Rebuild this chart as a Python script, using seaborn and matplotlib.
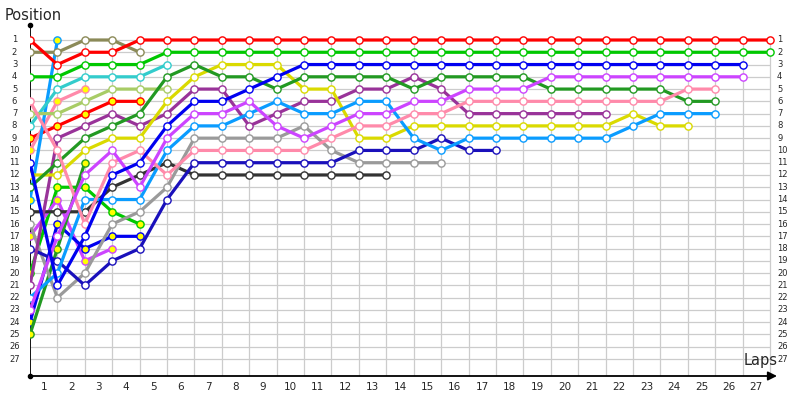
import matplotlib
matplotlib.use("Agg")
import matplotlib.pyplot as plt
import seaborn as sns
import pandas as pd

sns.set_style("white")
plt.rcParams["font.family"] = ["DejaVu Sans"]

# ---------------- data (position per lap, lap 0 = grid) ----------------
lap_labels = [str(i) for i in range(1, 28)]
pos_labels = [str(i) for i in range(1, 28)]

red_a = [1, 3, 2, 2, 1, 1, 1, 1, 1, 1, 1, 1, 1, 1, 1, 1, 1, 1, 1, 1, 1, 1, 1, 1, 1, 1, 1, 1]
green_a = [4, 4, 3, 3, 3, 2, 2, 2, 2, 2, 2, 2, 2, 2, 2, 2, 2, 2, 2, 2, 2, 2, 2, 2, 2, 2, 2, 2]
blue_a = [11, 21, 17, 12, 11, 8, 6, 6, 5, 4, 3, 3, 3, 3, 3, 3, 3, 3, 3, 3, 3, 3, 3, 3, 3, 3, 3]
magenta_a = [23, 17, 12, 10, 13, 9, 7, 7, 6, 8, 9, 8, 7, 7, 6, 6, 5, 5, 5, 4, 4, 4, 4, 4, 4, 4, 4]
pink_a = [6, 10, 16, 11, 10, 12, 10, 10, 10, 10, 10, 9, 8, 8, 7, 7, 6, 6, 6, 6, 6, 6, 6, 6, 5, 5]
dkgreen_a = [13, 11, 9, 8, 7, 4, 3, 4, 4, 5, 4, 4, 4, 4, 5, 4, 4, 4, 4, 5, 5, 5, 5, 5, 6, 6]
ltblue_a = [22, 20, 14, 14, 14, 10, 8, 8, 7, 6, 7, 7, 6, 6, 9, 10, 9, 9, 9, 9, 9, 9, 8, 7, 7, 7]
yellow_a = [12, 12, 10, 9, 9, 6, 4, 3, 3, 3, 5, 5, 9, 9, 8, 8, 8, 8, 8, 8, 8, 8, 7, 8, 8]
purple_a = [21, 9, 8, 7, 8, 7, 5, 5, 8, 7, 6, 6, 5, 5, 4, 5, 7, 7, 7, 7, 7, 7]
navy_a = [18, 19, 21, 19, 18, 14, 11, 11, 11, 11, 11, 11, 10, 10, 10, 9, 10, 10]
gray_a = [16, 22, 20, 16, 15, 13, 9, 9, 9, 9, 8, 10, 11, 11, 11, 11]
black_a = [15, 15, 15, 13, 12, 11, 12, 12, 12, 12, 12, 12, 12, 12]
olive_a = [2, 2, 1, 1, 2]
turq_a = [8, 5, 4, 4, 4, 3]
ygreen_a = [7, 7, 6, 5, 5, 5]
red_b = [9, 8, 7, 6, 6]
pink_b = [10, 6, 5]
ltblue_b = [14, 1]
green_b = [20, 13, 13, 15, 16]
magenta_b = [17, 14, 19, 18]
blue_b = [24, 16, 18, 17, 17]
dkgreen_b = [25, 18, 11]

drivers = ["red_b", "pink_b", "ltblue_b", "green_b", "magenta_b", "blue_b", "dkgreen_b",
           "olive_a", "turq_a", "ygreen_a", "black_a", "gray_a", "navy_a", "purple_a",
           "yellow_a", "ltblue_a", "dkgreen_a", "pink_a", "magenta_a", "blue_a",
           "green_a", "red_a"]
series = [red_b, pink_b, ltblue_b, green_b, magenta_b, blue_b, dkgreen_b,
          olive_a, turq_a, ygreen_a, black_a, gray_a, navy_a, purple_a,
          yellow_a, ltblue_a, dkgreen_a, pink_a, magenta_a, blue_a,
          green_a, red_a]

# ---------------- styles ----------------
line_colors = {
    "red": "#ff0000", "green": "#00c800", "blue": "#0000f0", "magenta": "#cc44ff",
    "pink": "#ff8aaa", "dkgreen": "#229922", "ltblue": "#0a9cff", "yellow": "#dada00",
    "purple": "#993399", "navy": "#1a10bb", "gray": "#9a9a9a", "black": "#333333",
    "olive": "#8b8a58", "turq": "#33cccc", "ygreen": "#a8cc66",
}

rows = []
for name, vals in zip(drivers, series):
    for lap, p in enumerate(vals):
        rows.append({"driver": name, "lap": lap, "position": p})
df = pd.DataFrame(rows)

fig = plt.figure(figsize=(8, 4), dpi=100)
px_per_lap = 740 / 27
x_right = (777 - 30) / px_per_lap
px_per_pos = 12.27
y_top = 1 - 15 / px_per_pos
y_bot = 1 + 336 / px_per_pos
ax = fig.add_axes([30 / 800, 24 / 400, 747 / 800, 351 / 400])
ax.set_xlim(0, x_right)
ax.set_ylim(y_bot, y_top)
for s in ax.spines.values():
    s.set_visible(False)
ax.set_xticks([])
ax.set_yticks([])

# grid
ax.hlines(range(1, 28), 0, 27, color="#cccccc", lw=0.9, zorder=0)
ax.vlines(range(1, 28), 1, y_bot, color="#cccccc", lw=0.9, zorder=0)

# axes lines
ax.axvline(0, color="black", lw=1.3, zorder=1)
ax.annotate("", xy=(1.0, 0), xytext=(0, 0), xycoords="axes fraction",
            arrowprops=dict(arrowstyle="-|>", color="black", lw=1.3,
                            mutation_scale=13, shrinkA=0, shrinkB=0))
ax.plot([0], [1], "ko", ms=3, transform=ax.transAxes, clip_on=False)
ax.plot([0], [0], "ko", ms=3, transform=ax.transAxes, clip_on=False)

# lines
for name in drivers:
    team = name.rsplit("_", 1)[0]
    c = line_colors[team]
    fill = "#ffff00" if name.endswith("_b") else "white"
    sub = df[df["driver"] == name]
    sns.lineplot(data=sub, x="lap", y="position", ax=ax, color=c, linewidth=2.3,
                 marker="o", markersize=5.2, markerfacecolor=fill,
                 markeredgecolor=c, markeredgewidth=1.0, estimator=None,
                 sort=False, legend=False, zorder=3)

ax.set_xlabel("")
ax.set_ylabel("")
ax.set_xlim(0, x_right)
ax.set_ylim(y_bot, y_top)

# tick labels
for i, lab in enumerate(pos_labels):
    p = i + 1
    ax.text((14.5 - 30) / px_per_lap, p, lab, ha="center", va="center",
            fontsize=6, clip_on=False)
    ax.text((777 - 30) / px_per_lap, p, lab, ha="left", va="center",
            fontsize=6, clip_on=False)
for i, lab in enumerate(lap_labels):
    ax.text(i + 0.5, 1 + (387 - 40) / px_per_pos, lab, ha="center", va="center",
            fontsize=7.5, clip_on=False)

fig.text(5 / 800, 1 - 15 / 400, "Position", fontsize=10.5, ha="left", va="center")
fig.text(744 / 800, 1 - 361 / 400, "Laps", fontsize=10.5, ha="left", va="center")

fig.savefig("out.png", dpi=100)
